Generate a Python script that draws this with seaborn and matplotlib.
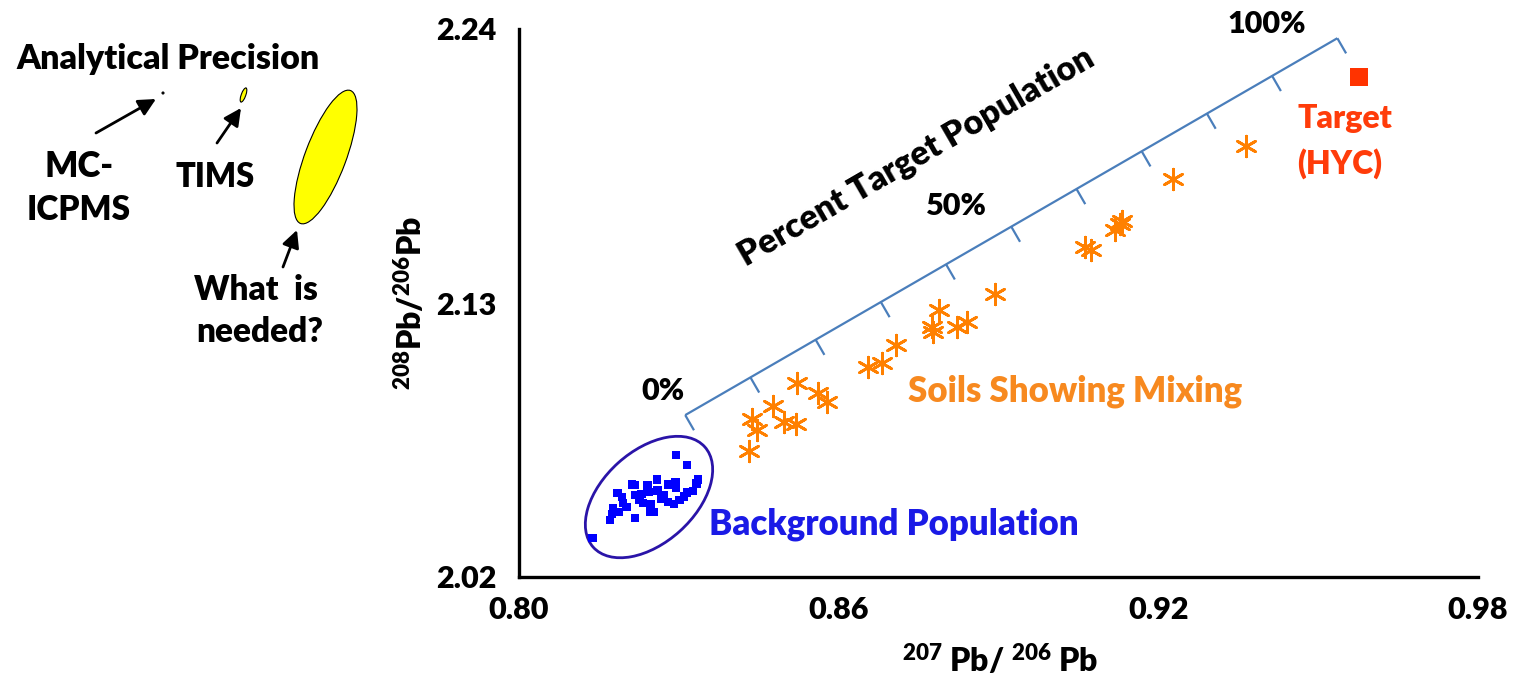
import numpy as np
import matplotlib
matplotlib.use("Agg")
import matplotlib.pyplot as plt
from matplotlib.patches import Ellipse
from matplotlib.transforms import ScaledTranslation
import seaborn as sns

# Background soils: 207Pb/206Pb and 208Pb/206Pb
bg_x = [0.8295, 0.8315, 0.8212, 0.8218, 0.8241, 0.8259, 0.8280, 0.8294, 0.8295,
        0.8336, 0.8333, 0.8326, 0.8315, 0.8310, 0.8301, 0.8291, 0.8280, 0.8271,
        0.8266, 0.8260, 0.8243, 0.8230, 0.8218, 0.8226, 0.8233, 0.8247, 0.8185,
        0.8193, 0.8195, 0.8202, 0.8177, 0.8188, 0.8174, 0.8171, 0.8218, 0.8246,
        0.8253, 0.8138]
bg_y = [2.0691, 2.0649, 2.0572, 2.0569, 2.0567, 2.0591, 2.0571, 2.0579, 2.0556,
        2.0592, 2.0576, 2.0545, 2.0539, 2.0523, 2.0509, 2.0492, 2.0502, 2.0529,
        2.0512, 2.0547, 2.0540, 2.0533, 2.0529, 2.0509, 2.0496, 2.0493, 2.0536,
        2.0522, 2.0496, 2.0482, 2.0476, 2.0462, 2.0453, 2.0429, 2.0436, 2.0462,
        2.0460, 2.0357]

# Soils showing mixing towards the target
soil_x = [0.8521, 0.8562, 0.8579, 0.8476, 0.8437, 0.8446, 0.8497, 0.8520, 0.8431,
          0.8655, 0.8681, 0.8707, 0.8789, 0.8776, 0.8777, 0.8822, 0.8841, 0.8894,
          0.9062, 0.9074, 0.9119, 0.9128, 0.9132, 0.9228, 0.9364]
soil_y = [2.0978, 2.0938, 2.0904, 2.0888, 2.0834, 2.0789, 2.0822, 2.0814, 2.0705,
          2.1043, 2.1058, 2.1133, 2.1272, 2.1205, 2.1182, 2.1205, 2.1222, 2.1337,
          2.1526, 2.1513, 2.1593, 2.1618, 2.1631, 2.1797, 2.1932]

# Target ore (HYC)
target_x = [0.9577]
target_y = [2.2209]

# Mixing scale: 0 % to 100 % target population, ticks every 10 %
mix_start = (0.8312, 2.0850)
mix_end = (0.9536, 2.2363)
mix_fractions = np.linspace(0.0, 1.0, 11)

x_ticks = [0.80, 0.86, 0.92, 0.98]
x_tick_labels = ["0.80", "0.86", "0.92", "0.98"]
y_ticks = [2.02, 2.13, 2.24]
y_tick_labels = ["2.02", "2.13", "2.24"]

W, H = 1515, 679
WEIGHT = "heavy"

sns.set_theme(style="white")
plt.rcParams["font.family"] = ["Lato", "DejaVu Sans"]
plt.rcParams["font.weight"] = WEIGHT
plt.rcParams["mathtext.fontset"] = "custom"
plt.rcParams["mathtext.rm"] = "Lato:heavy"
plt.rcParams["mathtext.bf"] = "Lato:heavy"
plt.rcParams["mathtext.it"] = "Lato:heavy"

fig = plt.figure(figsize=(W / 100, H / 100), dpi=100)
ax = fig.add_axes([519 / W, 1 - 577 / H, (1478 - 519) / W, (577 - 29) / H])
ax.set_xlim(0.80, 0.98)
ax.set_ylim(2.02, 2.24)

# Axes styling
for side in ["top", "right"]:
    ax.spines[side].set_visible(False)
for side in ["left", "bottom"]:
    ax.spines[side].set_color("black")
    ax.spines[side].set_linewidth(2.4)
ax.set_xticks(x_ticks, x_tick_labels)
ax.set_yticks(y_ticks, y_tick_labels)
ax.tick_params(axis="both", direction="in", length=5, width=2, color="black",
               labelsize=22, labelcolor="black")
ax.tick_params(axis="x", pad=14)
ax.tick_params(axis="y", pad=16)
for lab in ax.get_xticklabels() + ax.get_yticklabels():
    lab.set_fontweight(WEIGHT)

ax.set_xlabel(r"$^{207}$ Pb/ $^{206}$ Pb", fontsize=23, fontweight=WEIGHT, color="black")
ax.set_ylabel(r"$^{208}$Pb/$^{206}$Pb", fontsize=23, fontweight=WEIGHT, color="black")
ax.xaxis.set_label_coords(0.5016, -0.1515)
ax.xaxis.label.set_verticalalignment("center")
ax.yaxis.set_label_coords(-0.1137, 0.5)
ax.yaxis.label.set_verticalalignment("center")

# Mixing scale line with perpendicular ticks
line_color = "#4A7EBB"
ax.plot([mix_start[0], mix_end[0]], [mix_start[1], mix_end[1]],
        color=line_color, lw=1.6, solid_capstyle="butt")
p0 = ax.transData.transform(mix_start)
p1 = ax.transData.transform(mix_end)
d = (p1 - p0) / np.linalg.norm(p1 - p0)
perp = np.array([d[1], -d[0]])
inv = ax.transData.inverted()
for f in mix_fractions:
    a = p0 + (p1 - p0) * f
    b = a + perp * 17.5
    (xa, ya), (xb, yb) = inv.transform([a, b])
    ax.plot([xa, xb], [ya, yb], color=line_color, lw=1.6, solid_capstyle="butt")

# Data points
sns.scatterplot(x=bg_x, y=bg_y, marker="s", s=36, color="#0000FF",
                edgecolor="none", linewidth=0, ax=ax, zorder=3)
sns.scatterplot(x=soil_x, y=soil_y, marker=(6, 2, 0), s=220, color="#FF8000",
                edgecolor="#FF8000", linewidth=2.0, ax=ax, zorder=3)
sns.scatterplot(x=target_x, y=target_y, marker="s", s=170, color="#FF3300",
                edgecolor="none", linewidth=0, ax=ax, zorder=3)

# Background population envelope
bg_center = (0.8244, 2.0521)
env = Ellipse((0, 0), 1.50, 0.92, angle=42, fill=False, edgecolor="#2A14A8", lw=2.0,
              transform=fig.dpi_scale_trans + ScaledTranslation(*bg_center, ax.transData))
ax.add_patch(env)

# Labels inside the plot
ax.text(0.82703, 2.09107, "0%", ha="center", va="baseline", fontsize=22,
        fontweight=WEIGHT, color="black")
ax.text(0.88215, 2.16533, "50%", ha="center", va="baseline", fontsize=22,
        fontweight=WEIGHT, color="black")
ax.text(0.94039, 2.23839, "100%", ha="center", va="baseline", fontsize=22,
        fontweight=WEIGHT, color="black", clip_on=False)
ax.text(0.87461, 2.18882, "Percent Target Population", ha="center", va="center",
        rotation=30, rotation_mode="anchor", fontsize=24.5, fontweight=WEIGHT,
        color="black")
ax.text(0.90435, 2.09038, "Soils Showing Mixing", ha="center", va="baseline",
        fontsize=25, fontweight=WEIGHT, color="#F7891F")
ax.text(0.87038, 2.03687, "Background Population", ha="center", va="baseline",
        fontsize=25, fontweight=WEIGHT, color="#1A1AE6")
ax.text(0.95503, 2.20014, "Target", ha="center", va="baseline",
        fontsize=23, fontweight=WEIGHT, color="#FF3C0A")
ax.text(0.95409, 2.18207, "(HYC)", ha="center", va="baseline",
        fontsize=23, fontweight=WEIGHT, color="#FF3C0A")


# Analytical precision panel (figure pixel positions, y measured from top)
def fpx(x, y):
    return x / W, 1 - y / H


def left_text(x, y, s, size=24.5):
    fig.text(*fpx(x, y), s, ha="center", va="baseline", fontsize=size,
             fontweight=WEIGHT, color="black")


left_text(168, 69, "Analytical Precision", 24.5)
left_text(79, 177, "MC-", 25)
left_text(79, 220, "ICPMS", 24)
left_text(215, 187, "TIMS", 23.5)
left_text(256, 300, "What  is", 24)
left_text(260, 342, "needed?", 24)

precision_shapes = [
    # (x, y, width, height, angle) in pixels
    (163, 93, 2.0, 2.0, 0),
    (243.5, 95, 15, 4.5, 70),
    (325.5, 157, 142, 41, 69.4),
]
for (cx, cy, w, h, ang) in precision_shapes:
    fc = "black" if w <= 2 else "#FFFF00"
    e = Ellipse((cx / 100, (H - cy) / 100), w / 100, h / 100, angle=ang,
                facecolor=fc, edgecolor="black", lw=0.8,
                transform=fig.dpi_scale_trans)
    fig.add_artist(e)

arrows = [
    ((96, 133), (156, 99)),
    ((217, 143), (241, 108)),
    ((283, 267), (297, 230)),
]
for (tail, tip) in arrows:
    ax.annotate("", xy=(tip[0], H - tip[1]), xycoords="figure pixels",
                xytext=(tail[0], H - tail[1]), textcoords="figure pixels",
                arrowprops=dict(arrowstyle="-|>", color="black", lw=2.0,
                                mutation_scale=26, shrinkA=0, shrinkB=0),
                annotation_clip=False)

fig.savefig("out.png", dpi=100, facecolor="white")
